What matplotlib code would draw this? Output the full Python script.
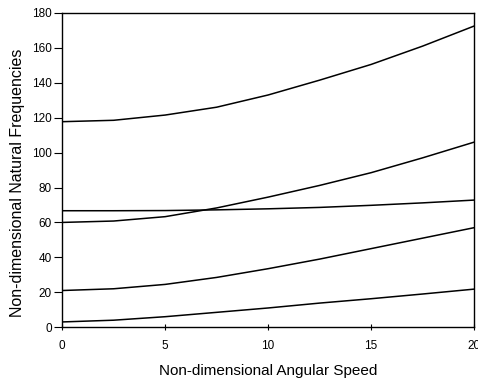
import matplotlib
matplotlib.use("Agg")
import matplotlib.pyplot as plt

plt.rcParams['font.family'] = ['Liberation Sans', 'DejaVu Sans']

# non-dimensional angular speed
speed = [0, 2.5, 5, 7.5, 10, 12.5, 15, 17.5, 20]

# natural frequency branches
mode1 = [3.0, 4.0, 6.0, 8.5, 11.0, 13.8, 16.3, 19.0, 21.8]
mode2 = [21.0, 22.0, 24.5, 28.5, 33.5, 39.0, 45.0, 51.0, 57.0]
mode3 = [66.7, 66.7, 66.8, 67.2, 67.8, 68.6, 69.8, 71.2, 72.8]
mode4 = [60.0, 60.8, 63.3, 68.3, 74.5, 81.2, 88.5, 97.0, 106.0]
mode5 = [117.7, 118.5, 121.5, 126.0, 133.0, 141.5, 150.5, 161.0, 172.5]

fig = plt.figure(figsize=(4.78, 3.8), dpi=100)
ax = fig.add_axes([0.130, 0.139, 0.862, 0.827])

for ys in (mode1, mode2, mode3, mode4, mode5):
    ax.plot(speed, ys, color='black', linewidth=1.1)

ax.set_xlim(0, 20)
ax.set_ylim(0, 180)
ax.set_xticks([0, 5, 10, 15, 20])
ax.set_yticks(range(0, 181, 20))
ax.tick_params(axis='y', direction='out', length=6, width=0.8, labelsize=8.5, pad=1.5)
ax.tick_params(axis='x', direction='inout', length=4, width=0.8, labelsize=8.5, pad=7)
for sp in ax.spines.values():
    sp.set_linewidth(1.0)
    sp.set_color('black')

ax.set_xlabel("Non-dimensional Angular Speed", fontsize=11, labelpad=9)
ax.set_ylabel("Non-dimensional Natural Frequencies", fontsize=11.5)
ax.yaxis.set_label_coords(-0.09, 0.459)

fig.savefig("out.png", dpi=100)
